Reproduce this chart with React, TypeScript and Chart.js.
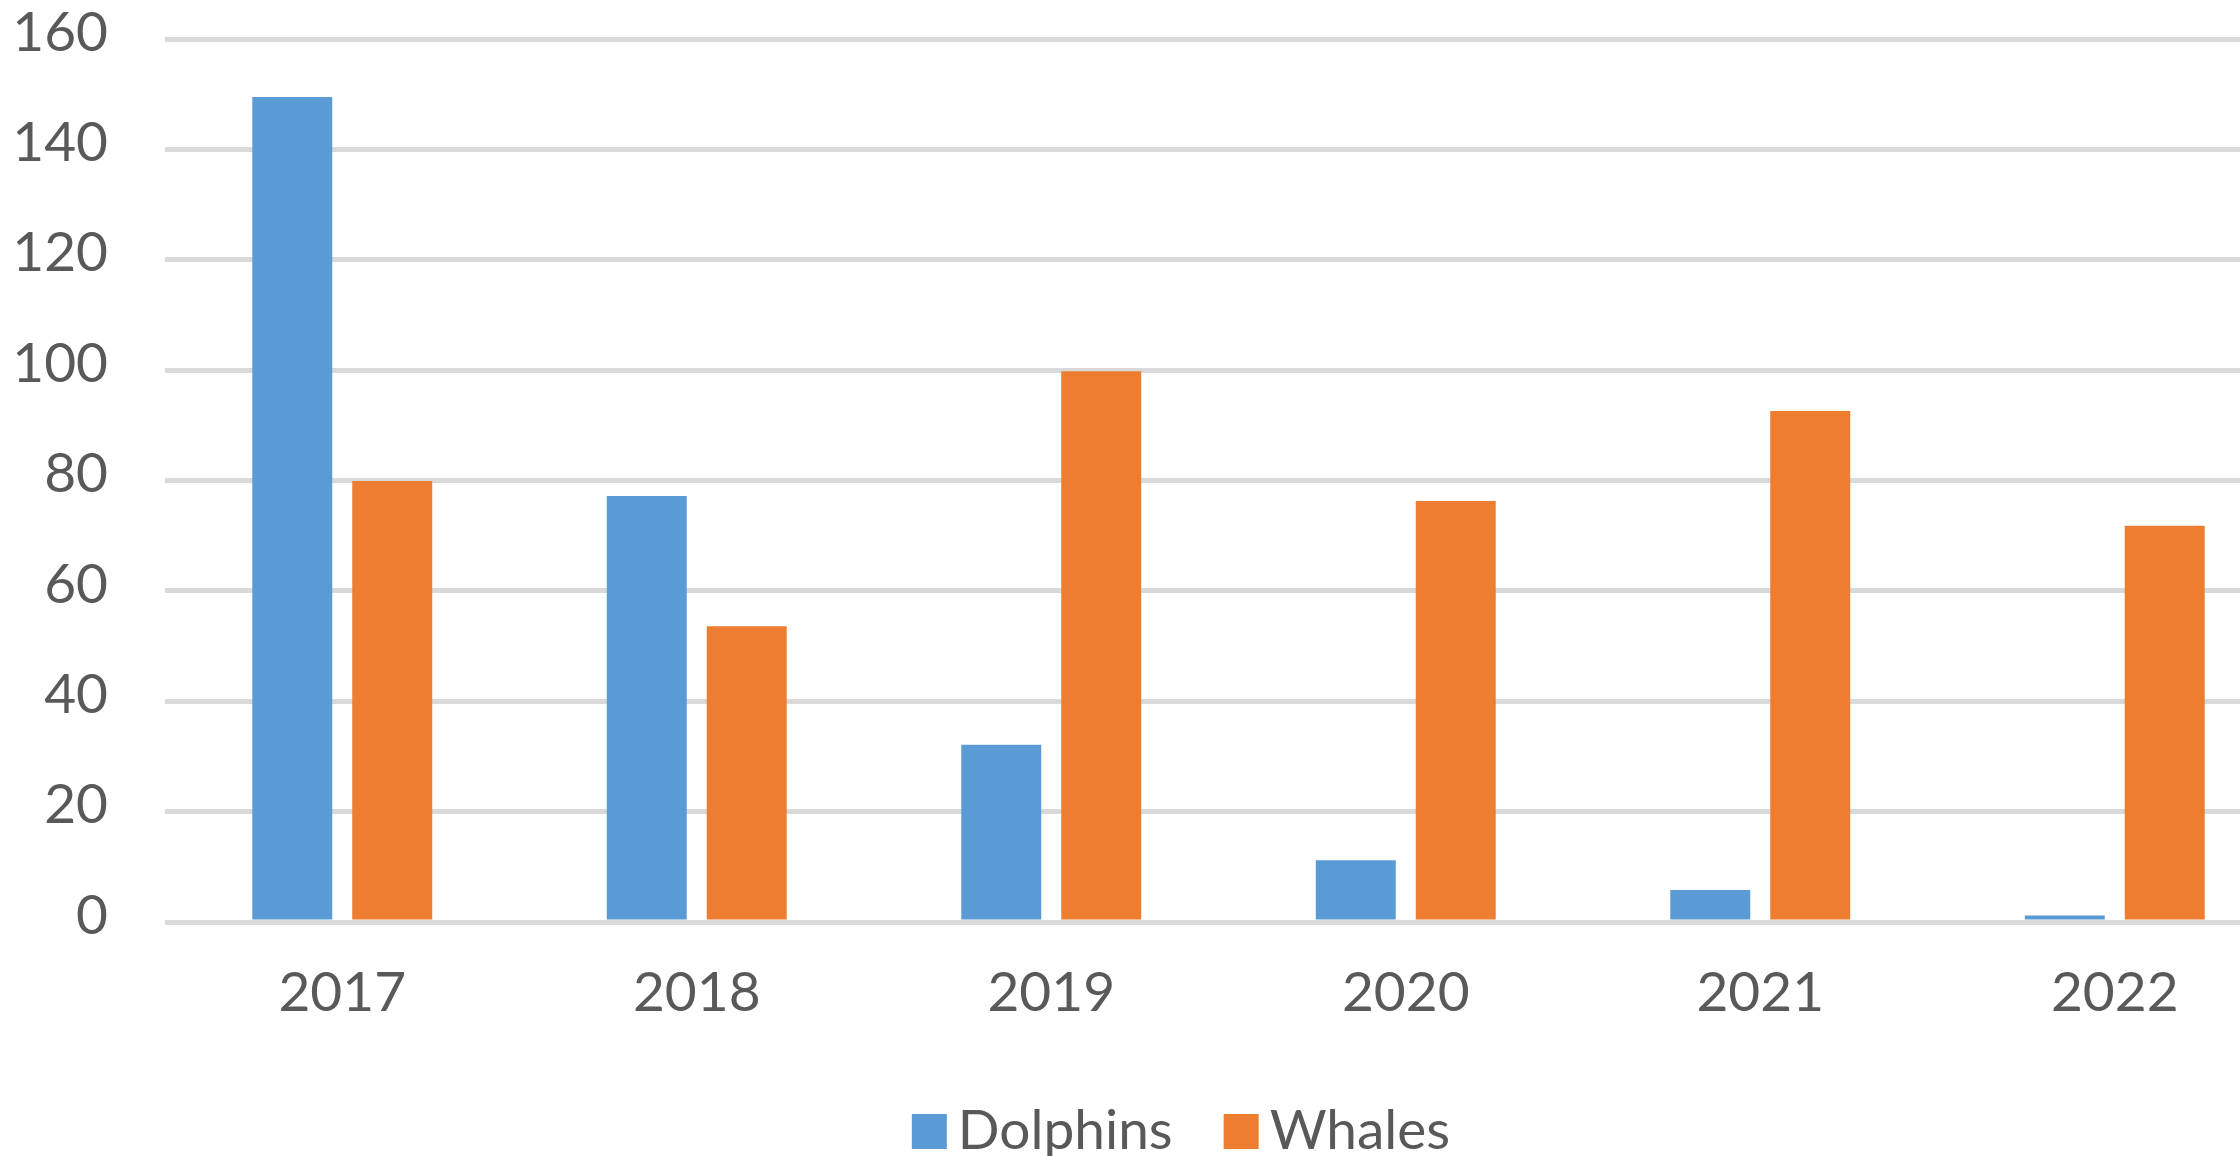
import React, { useEffect, useRef } from "react";
import { Chart, registerables } from "chart.js";

Chart.register(...registerables);

// Yearly counts per species
const years = ["2017", "2018", "2019", "2020", "2021", "2022"];
const dolphins = [149.5, 77.2, 32.1, 11.2, 5.8, 1.2];
const whales = [79.9, 53.6, 99.8, 76.3, 92.6, 71.8];
const seriesNames = ["Dolphins", "Whales"];
const seriesColors = ["#5B9BD5", "#ED7D31"];
const yMin = 0;
const yMax = 160;
const yStep = 20;

const CANVAS_W = 2362;
const CANVAS_H = 1180;
const FONT_FAMILY = "Lato, 'Liberation Sans', sans-serif";
const FONT_SIZE = 55;
const TEXT_COLOR = "#595959";
const GRID_COLOR = "#D9D9D9";

// Redraws the zero line on top of the bars so the baseline stays visible.
const zeroLinePlugin = {
  id: "zeroLine",
  afterDatasetsDraw(chart: any) {
    const { ctx, chartArea, scales } = chart;
    const y = Math.round(scales.y.getPixelForValue(0)) + 0.5;
    ctx.save();
    ctx.strokeStyle = GRID_COLOR;
    ctx.lineWidth = 5;
    ctx.beginPath();
    ctx.moveTo(chartArea.left, y);
    ctx.lineTo(chartArea.right, y);
    ctx.stroke();
    ctx.restore();
  },
};

// Compact legend centred under the chart: square swatch followed by its label.
const bottomLegendPlugin = {
  id: "bottomLegend",
  afterDraw(chart: any) {
    const { ctx } = chart;
    const box = 35;
    const textGap = 11;
    const itemGap = 51;
    const baseline = chart.chartArea.bottom + 227;
    ctx.save();
    ctx.font = `${FONT_SIZE}px ${FONT_FAMILY}`;
    ctx.textBaseline = "alphabetic";
    ctx.textAlign = "left";
    const items = chart.data.datasets.map((ds: any) => ({
      label: ds.label as string,
      color: ds.backgroundColor as string,
      w: ctx.measureText(ds.label).width,
    }));
    const total =
      items.reduce((s: number, it: any) => s + box + textGap + it.w, 0) +
      itemGap * (items.length - 1);
    let x = chart.width / 2 - total / 2;
    for (const it of items) {
      ctx.fillStyle = it.color;
      ctx.fillRect(x, baseline - box, box, box);
      ctx.fillStyle = TEXT_COLOR;
      ctx.fillText(it.label, x + box + textGap, baseline);
      x += box + textGap + it.w + itemGap;
    }
    ctx.restore();
  },
};

export default function App() {
  const canvasRef = useRef<HTMLCanvasElement | null>(null);

  useEffect(() => {
    const canvas = canvasRef.current;
    if (!canvas) return;
    const font = { family: FONT_FAMILY, size: FONT_SIZE };
    const chart = new Chart(canvas, {
      type: "bar",
      data: {
        labels: years,
        datasets: [
          {
            label: seriesNames[0],
            data: dolphins,
            backgroundColor: seriesColors[0],
            borderWidth: 0,
          },
          {
            label: seriesNames[1],
            data: whales,
            backgroundColor: seriesColors[1],
            borderWidth: 0,
          },
        ],
      },
      options: {
        animation: false,
        responsive: false,
        devicePixelRatio: 1,
        layout: { padding: { left: 0, right: 70, top: 39, bottom: 154 } },
        datasets: {
          bar: { categoryPercentage: 0.564, barPercentage: 0.8 },
        },
        plugins: {
          legend: { display: false },
          tooltip: { enabled: false },
        },
        scales: {
          x: {
            grid: { display: false, drawTicks: false },
            border: { display: false },
            ticks: { font, color: TEXT_COLOR, padding: 38, maxRotation: 0 },
            afterFit(scale: any) {
              scale.height = 104;
              scale.paddingLeft = 0;
              scale.paddingRight = 0;
            },
          },
          y: {
            min: yMin,
            max: yMax,
            ticks: {
              stepSize: yStep,
              font,
              color: TEXT_COLOR,
              padding: 57,
              labelOffset: -6,
            },
            grid: { color: GRID_COLOR, lineWidth: 5, drawTicks: false },
            border: { display: false },
            afterFit(scale: any) {
              scale.width = 165;
              scale.paddingTop = 0;
              scale.paddingBottom = 0;
            },
          },
        },
      },
      plugins: [zeroLinePlugin, bottomLegendPlugin],
    } as any);
    return () => chart.destroy();
  }, []);

  return (
    <div
      style={{
        position: "fixed",
        left: 0,
        top: 0,
        width: 2240,
        height: 1156,
        overflow: "hidden",
        background: "#ffffff",
      }}
    >
      <canvas
        ref={canvasRef}
        width={CANVAS_W}
        height={CANVAS_H}
        style={{ display: "block", width: CANVAS_W, height: CANVAS_H }}
      />
    </div>
  );
}
